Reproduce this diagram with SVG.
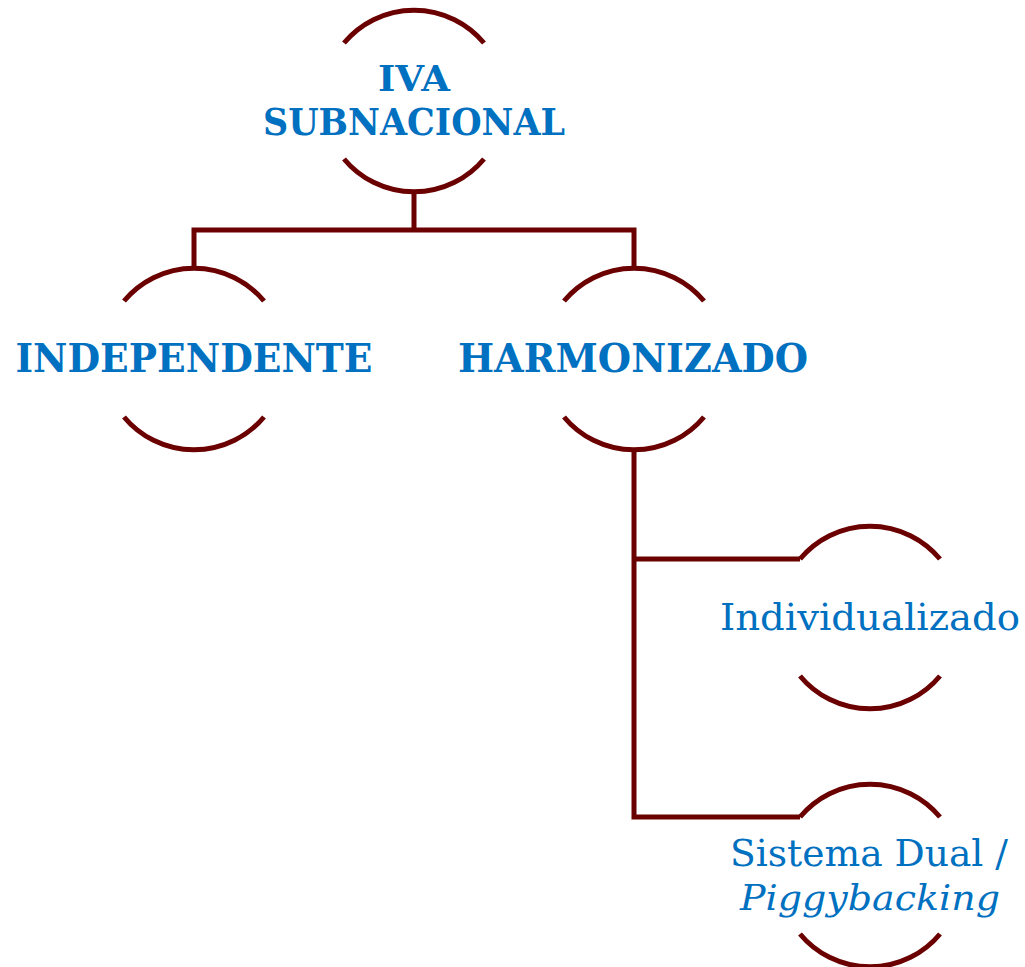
<svg xmlns="http://www.w3.org/2000/svg" width="1025" height="967" viewBox="0 0 1025 967">
<style>
.arc{fill:none;stroke:#6B0000;stroke-width:5;stroke-linecap:butt}
.con{fill:none;stroke:#6B0000;stroke-width:5;stroke-linejoin:miter}
.b{font-family:"DejaVu Serif","Liberation Serif",serif;font-weight:bold;fill:#0070C0;text-anchor:middle}
.r{font-family:"DejaVu Serif","Liberation Serif",serif;fill:#0070C0;text-anchor:middle}
</style>
<rect width="1025" height="967" fill="#fff"/>
<g id="connectors">
<path class="con" d="M414 192V230M194 268V230H634V268"/>
<path class="con" d="M634 450V817H800M634 559H800"/>
</g>
<g id="n-iva">
<path class="arc" d="M344 43A91 91 0 0 1 484 43"/>
<path class="arc" d="M344 159A91 91 0 0 0 484 159"/>
<text class="b" x="414" y="91" font-size="36" textLength="72" lengthAdjust="spacingAndGlyphs">IVA</text>
<text class="b" x="414" y="135" font-size="38" textLength="302" lengthAdjust="spacingAndGlyphs">SUBNACIONAL</text>
</g>
<g id="n-independente">
<path class="arc" d="M124 301A91 91 0 0 1 264 301"/>
<path class="arc" d="M124 417A91 91 0 0 0 264 417"/>
<text class="b" x="194" y="372" font-size="40" textLength="357" lengthAdjust="spacingAndGlyphs">INDEPENDENTE</text>
</g>
<g id="n-harmonizado">
<path class="arc" d="M564 301A91 91 0 0 1 704 301"/>
<path class="arc" d="M564 417A91 91 0 0 0 704 417"/>
<text class="b" x="633" y="372" font-size="40" textLength="350" lengthAdjust="spacingAndGlyphs">HARMONIZADO</text>
</g>
<g id="n-individualizado">
<path class="arc" d="M800 559A91 91 0 0 1 940 559"/>
<path class="arc" d="M800 676A91 91 0 0 0 940 676"/>
<text class="r" x="870" y="630" font-size="38" textLength="300" lengthAdjust="spacingAndGlyphs">Individualizado</text>
</g>
<g id="n-dual">
<path class="arc" d="M800 817A91 91 0 0 1 940 817"/>
<path class="arc" d="M800 934A91 91 0 0 0 940 934"/>
<text class="r" x="869" y="866" font-size="38" textLength="278" lengthAdjust="spacingAndGlyphs">Sistema Dual /</text>
<text class="r" x="870" y="910" font-size="36" font-style="italic" textLength="260" lengthAdjust="spacingAndGlyphs">Piggybacking</text>
</g>
</svg>
